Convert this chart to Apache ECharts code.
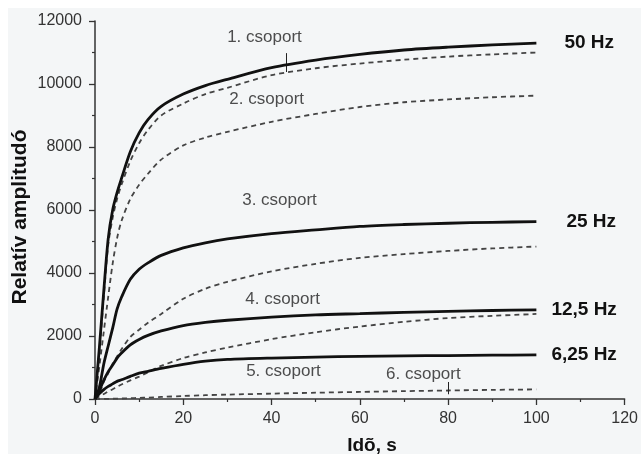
<!DOCTYPE html>
<html>
<head>
<meta charset="utf-8">
<script src="https://cdn.jsdelivr.net/npm/echarts@6/dist/echarts.min.js"></script>
<style>html,body{margin:0;padding:0;background:#fff}#c{width:641px;height:455px}</style>
</head>
<body>
<div id="c"></div>
<script>
// ---- data ----
const xValues = [0,1,2,3,4,5,6,8,10,12,15,20,25,30,40,50,60,70,80,90,100];
const hz50    = [0,1650,3450,5100,6000,6550,7000,7850,8450,8870,9290,9680,9950,10150,10520,10760,10940,11080,11170,11240,11300];
const dashA   = [0,1500,3250,4900,5750,6350,6800,7550,8120,8540,9000,9380,9680,9880,10280,10500,10650,10770,10870,10940,11000];
const dashB   = [0,1050,2150,3250,4300,5100,5650,6350,6800,7150,7600,8050,8300,8480,8800,9050,9270,9420,9510,9580,9630];
const hz25    = [0,380,1120,1690,2250,2850,3230,3800,4120,4320,4560,4800,4960,5080,5250,5370,5480,5540,5580,5610,5630];
const dashC   = [0,180,550,820,1120,1350,1580,1970,2200,2420,2700,3180,3500,3720,4050,4290,4480,4600,4700,4780,4840];
const hz12_5  = [0,280,600,870,1080,1300,1460,1720,1890,2020,2160,2330,2430,2500,2600,2670,2710,2750,2780,2810,2830];
const dashD   = [0,80,160,240,310,390,460,590,710,850,1050,1300,1480,1630,1900,2120,2300,2450,2570,2640,2700];
const hz6_25  = [0,170,300,400,480,560,610,720,820,880,970,1100,1200,1255,1300,1330,1355,1370,1380,1390,1400];
const dashE   = [0,0,2,5,8,10,15,25,35,45,65,95,120,140,170,200,225,250,270,290,305];

const solidNames = ['50 Hz','25 Hz','12,5 Hz','6,25 Hz'];
const groupLabels = ['1. csoport','2. csoport','3. csoport','4. csoport','5. csoport','6. csoport'];
const groupLabelX = [38.4, 38.9, 41.8, 42.5, 42.7, 74.4];
const groupLabelY = [11490, 9520, 6320, 3175, 890, 795];
const arrow1 = [[43.4, 10980], [43.4, 10380]];
const arrow6 = [[80, 540], [80, 150]];
const xTicks = {min:0, max:120, interval:20};
const yTicks = {min:0, max:12000, interval:2000};

const pairs = arr => xValues.map((x,i)=>[x, arr[i]]);

const solidStyle = {color:'#111', width:2.8, type:'solid'};
const dashStyle = {color:'#444', width:1.8, type:[5,4]};

function solid(name, arr, dist){
  return {type:'line', name, data:pairs(arr), showSymbol:false, smooth:0.3,
    lineStyle:solidStyle, z:5,
    endLabel:{show:true, formatter:name, distance:dist, fontSize:19, fontWeight:'bold',
      color:'#111', fontFamily:'Liberation Sans'}};
}
function dashed(name, arr){
  return {type:'line', name, data:pairs(arr), showSymbol:false, smooth:0.3,
    lineStyle:dashStyle, z:4};
}

const chart = echarts.init(document.getElementById('c'), null, {renderer:'canvas'});
const axisCommon = {
  splitLine:{show:false},
  axisLine:{show:true, onZero:false, lineStyle:{color:'#333', width:1.5}},
  axisTick:{show:true, inside:false, length:6, lineStyle:{color:'#333', width:1.3}},
  minorTick:{show:true, splitNumber:2, length:3, lineStyle:{color:'#333', width:1.2}},
  axisLabel:{fontSize:16, color:'#333', fontFamily:'Liberation Sans', formatter:v=>String(v)}
};
chart.setOption({
  animation:false,
  backgroundColor:'#ffffff',
  grid:{left:95, right:15, top:21, bottom:56, containLabel:false},
  xAxis:Object.assign({type:'value', min:xTicks.min, max:xTicks.max, interval:xTicks.interval}, axisCommon,
    {axisLabel:Object.assign({}, axisCommon.axisLabel, {margin:12})}),
  yAxis:Object.assign({type:'value', min:yTicks.min, max:yTicks.max, interval:yTicks.interval}, axisCommon,
    {axisLabel:Object.assign({}, axisCommon.axisLabel, {margin:13})}),
  graphic:[
    {type:'rect', shape:{x:8, y:8, width:633, height:446}, style:{fill:'#f4f6f7'}, z:-1, silent:true},
    {type:'text', x:20, y:217, rotation:Math.PI/2, style:{text:'Relatív amplitudó', fontSize:21,
      fontWeight:'bold', fill:'#111', fontFamily:'Liberation Sans', align:'center', verticalAlign:'middle'}},
    {type:'text', x:372, y:446, style:{text:'Idõ, s', fontSize:19, fontWeight:'bold', fill:'#111',
      fontFamily:'Liberation Sans', align:'center', verticalAlign:'middle'}}
  ],
  series:[
    dashed('A', dashA), dashed('B', dashB), dashed('C', dashC), dashed('D', dashD), dashed('E', dashE),
    solid(solidNames[0], hz50, 28), solid(solidNames[1], hz25, 30),
    solid(solidNames[2], hz12_5, 15), solid(solidNames[3], hz6_25, 15),
    {type:'scatter', symbolSize:0, z:6,
      data:groupLabels.map((t,i)=>({name:t, value:[groupLabelX[i], groupLabelY[i]]})),
      label:{show:true, position:'inside', formatter:p=>p.name, fontSize:17, color:'#222',
        fontFamily:'Liberation Sans'},
      markLine:{silent:true, symbol:['none','arrow'], symbolSize:[0,6], label:{show:false},
        lineStyle:{color:'#222', width:1, type:'solid'},
        data:[[{coord:arrow1[0]},{coord:arrow1[1]}],[{coord:arrow6[0]},{coord:arrow6[1]}]]}
    }
  ]
});
</script>
</body>
</html>
